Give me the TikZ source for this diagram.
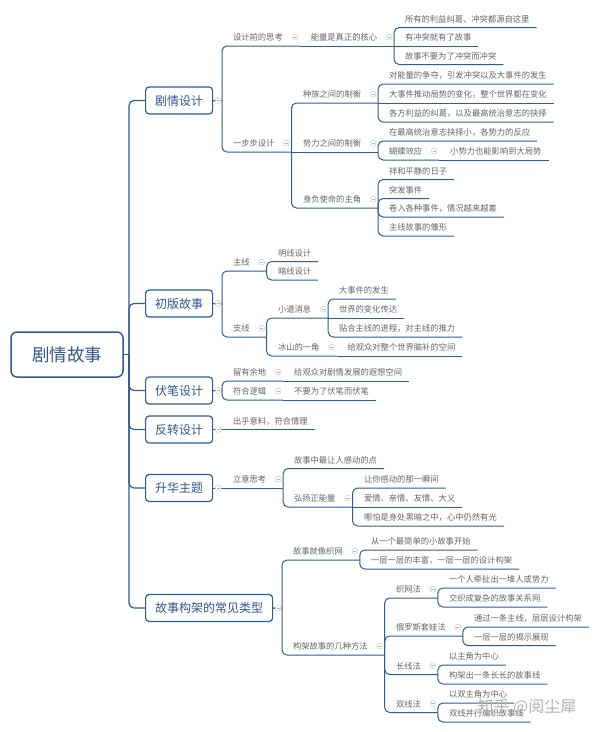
\documentclass[tikz,border=0pt]{standalone}
\usepackage{fontspec}
\setmainfont{Noto Sans CJK SC}
\usetikzlibrary{positioning,backgrounds}
\definecolor{lnblue}{RGB}{46,92,150}
\definecolor{bxtext}{RGB}{48,86,140}
\definecolor{tpgray}{RGB}{100,100,100}
\tikzset{
  rootbox/.style={draw=lnblue, line width=1.5pt, rounded corners=6pt, text=bxtext, font=\fontsize{17.5}{20}\selectfont, minimum width=112pt, minimum height=45pt, fill=white},
  mbox/.style={draw=lnblue, line width=1.2pt, rounded corners=3.5pt, text=bxtext, font=\fontsize{12}{14}\selectfont, minimum height=27pt, inner xsep=9.5pt, anchor=west, fill=white},
  tp/.style={font=\fontsize{8.3}{10}\selectfont, text=tpgray, anchor=south west, inner xsep=0pt, inner ysep=5.3pt, text height=7pt, text depth=0pt, outer sep=0pt, execute at begin node=\hspace{11pt}, execute at end node=\hspace{7pt}},
  tpi/.style={tp, execute at end node=\hspace{10pt}},
  icn/.style={circle, draw=gray!40, fill=white, line width=0.5pt, minimum size=6pt, inner sep=0pt, path picture={\draw[gray!60, line width=0.6pt] ([xshift=1.4pt]path picture bounding box.west) -- ([xshift=-1.4pt]path picture bounding box.east);}},
  ln/.style={draw=lnblue, line width=1pt},
  tk/.style={ln, line width=1.2pt, rounded corners=5pt, to path={(\tikztostart) |- (\tikztotarget.west)}},
  bk/.style={ln, rounded corners=5pt, to path={(\tikztostart.east) -- (\tikztotarget.south west |- \tikztostart.east) (\tikztotarget.south west |- \tikztostart.east) |- (\tikztotarget.south east)}},
  bks/.style={ln, to path={(\tikztostart.east) -- (\tikztotarget.south east)}},
  br/.style={ln, rounded corners=5pt, to path={(\tikztostart.south east) |- (\tikztotarget.south east)}},
  sl/.style={ln, to path={(\tikztostart.south east) -- (\tikztotarget.south east)}},
  wm/.style={font=\fontsize{16}{18}\selectfont, text=black!30},
}

\begin{document}
\begin{tikzpicture}[x=1pt,y=-1pt]
\useasboundingbox (0,0) rectangle (600,732);
\node[rootbox] (root) at (67,354.5) {剧情故事};
\coordinate (tr) at (129,354.5);
\node[mbox] (m1) at (145,100.5) {剧情设计};
\node[mbox] (m2) at (145,303.5) {初版故事};
\node[mbox] (m3) at (145,390.5) {伏笔设计};
\node[mbox] (m4) at (145,429.5) {反转设计};
\node[mbox] (m5) at (145,488) {升华主题};
\node[mbox] (m6) at (145,608) {故事构架的常见类型};
% 剧情设计
\node[tpi] (a1) at (222,46) {设计前的思考};
\node[tpi] (a11) at (a1.south east) {能量是真正的核心};
\node[tp] (a111) at (394,27.5) {所有的利益纠葛、冲突都源自这里};
\node[tp] (a112) at (394,46) {有冲突就有了故事};
\node[tp] (a113) at (394,64.5) {故事不要为了冲突而冲突};
\node[tpi] (a2) at (222,152) {一步步设计};
\node[tpi] (a21) at (292,103) {种族之间的制衡};
\node[tp] (a211) at (378,84) {对能量的争夺，引发冲突以及大事件的发生};
\node[tp] (a212) at (378,103) {大事件推动局势的变化，整个世界都在变化};
\node[tp] (a213) at (378,122) {各方利益的纠葛，以及最高统治意志的抉择};
\node[tpi] (a22) at (292,152) {势力之间的制衡};
\node[tp] (a221) at (378,141) {在最高统治意志抉择小，各势力的反应};
\node[tpi] (a222) at (378,160) {蝴蝶效应};
\node[tp] (a2221) at (a222.south east) {小势力也能影响到大局势};
\node[tpi] (a23) at (292,208) {身负使命的主角};
\node[tp] (a231) at (378,179.5) {祥和平静的日子};
\node[tp] (a232) at (378,198.5) {突发事件};
\node[tp] (a233) at (378,217) {卷入各种事件，情况越来越差};
\node[tp] (a234) at (378,236) {主线故事的雏形};
% 初版故事
\node[tpi] (b1) at (222,271) {主线};
\node[tp] (b11) at (267,261.5) {明线设计};
\node[tp] (b12) at (267,280) {暗线设计};
\node[tpi] (b2) at (222,337) {支线};
\node[tpi] (b21) at (267,318) {小道消息};
\node[tp] (b211) at (328,299) {大事件的发生};
\node[tp] (b212) at (328,318) {世界的变化传达};
\node[tp] (b213) at (328,337) {贴合主线的进程，对主线的推力};
\node[tpi] (b22) at (267,356) {冰山的一角};
\node[tp] (b221) at (b22.south east) {给观众对整个世界脑补的空间};
% 伏笔设计
\node[tpi] (c1) at (222,381) {留有余地};
\node[tp] (c11) at (c1.south east) {给观众对剧情发展的遐想空间};
\node[tpi] (c2) at (222,400) {符合逻辑};
\node[tp] (c21) at (c2.south east) {不要为了伏笔而伏笔};
% 反转设计
\node[tp] (d1) at (222,429.5) {出乎意料，符合情理};
% 升华主题
\node[tpi] (e1) at (222,488) {立意思考};
\node[tp] (e11) at (283,468.5) {故事中最让人感动的点};
\node[tpi] (e12) at (283,507) {弘扬正能量};
\node[tp] (e121) at (353,488) {让你感动的那一瞬间};
\node[tp] (e122) at (353,507) {爱情、亲情、友情、大义};
\node[tp] (e123) at (353,526) {哪怕是身处黑暗之中，心中仍然有光};
% 故事构架的常见类型
\node[tpi] (f1) at (282,560) {故事就像织网};
\node[tp] (f11) at (360,550) {从一个最简单的小故事开始};
\node[tp] (f12) at (360,569) {一层一层的丰富，一层一层的设计构架};
\node[tpi] (f2) at (282,655) {构架故事的几种方法};
\node[tpi] (f21) at (385,598) {织网法};
\node[tp] (f211) at (438,588) {一个人牵扯出一堆人或势力};
\node[tp] (f212) at (438,607) {交织成复杂的故事关系网};
\node[tpi] (f22) at (385,636) {俄罗斯套娃法};
\node[tp] (f221) at (463,627) {通过一条主线，层层设计构架};
\node[tp] (f222) at (463,645.5) {一层一层的揭示展现};
\node[tpi] (f23) at (385,674.5) {长线法};
\node[tp] (f231) at (438,665) {以主角为中心};
\node[tp] (f232) at (438,684) {构架出一条长长的故事线};
\node[tpi] (f24) at (385,712.5) {双线法};
\node[tp] (f241) at (438,703) {以双主角为中心};
\node[tp] (f242) at (438,722) {双线并行编织故事线};
% collapse icons
\foreach \n in {m1,m2,m3,m4,m5,m6}
  \node[icn] (i\n) at ([xshift=5pt]\n.east) {};
\foreach \n in {a1,a11,a2,a21,a22,a222,a23,b1,b2,b21,b22,c1,c2,e1,e12,f1,f2,f21,f22,f23,f24}
  \node[icn] (i\n) at ([xshift=-5pt]\n.east) {};
\begin{scope}[on background layer]
\draw[ln, line width=1.2pt] (root.east) -- (tr);
\path (tr) edge[tk] (m1) edge[tk] (m2) edge[tk] (m3) edge[tk] (m4) edge[tk] (m5) edge[tk] (m6);
\path (m1) edge[bk] (a1) edge[bk] (a2);
\path (a1) edge[sl] (a11);
\path (a11) edge[br] (a111) edge[sl] (a112) edge[br] (a113);
\path (a2) edge[br] (a21) edge[sl] (a22) edge[br] (a23);
\path (a21) edge[br] (a211) edge[sl] (a212) edge[br] (a213);
\path (a22) edge[br] (a221) edge[br] (a222);
\path (a222) edge[sl] (a2221);
\path (a23) edge[br] (a231) edge[br] (a232) edge[br] (a233) edge[br] (a234);
\path (m2) edge[bk] (b1) edge[bk] (b2);
\path (b1) edge[br] (b11) edge[br] (b12);
\path (b2) edge[br] (b21) edge[br] (b22);
\path (b21) edge[br] (b211) edge[sl] (b212) edge[br] (b213);
\path (b22) edge[sl] (b221);
\path (m3) edge[bk] (c1) edge[bk] (c2);
\path (c1) edge[sl] (c11);
\path (c2) edge[sl] (c21);
\path (m4) edge[bks] (d1);
\path (m5) edge[bks] (e1);
\path (e1) edge[br] (e11) edge[br] (e12);
\path (e12) edge[br] (e121) edge[sl] (e122) edge[br] (e123);
\path (m6) edge[bk] (f1) edge[bk] (f2);
\path (f1) edge[br] (f11) edge[br] (f12);
\path (f2) edge[br] (f21) edge[br] (f22) edge[br] (f23) edge[br] (f24);
\path (f21) edge[br] (f211) edge[br] (f212);
\path (f22) edge[br] (f221) edge[br] (f222);
\path (f23) edge[br] (f231) edge[br] (f232);
\path (f24) edge[br] (f241) edge[br] (f242);
\end{scope}
\node[wm] (wm) at (527,707) {知乎 @阅尘犀};
\end{tikzpicture}
\end{document}
